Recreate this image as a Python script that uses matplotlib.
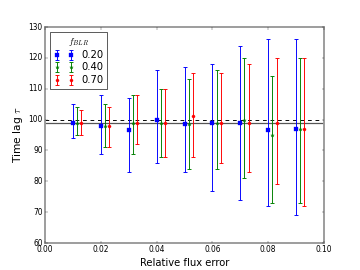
import matplotlib
matplotlib.use('Agg')
import matplotlib.pyplot as plt
import numpy as np

plt.style.use('classic')

flux_err = np.array([0.01, 0.02, 0.03, 0.04, 0.05, 0.06, 0.07, 0.08, 0.09])

# f_BLR = 0.20
lag_020 = [99, 98, 96.5, 100, 98.5, 99, 99, 96.5, 97]
up_020 = [105, 108, 107, 116, 117, 118, 124, 126, 126]
lo_020 = [94, 89, 83, 86, 83, 77, 74, 72, 69]

# f_BLR = 0.40
lag_040 = [99, 98, 99, 99, 98.5, 99, 100, 95, 97]
up_040 = [104, 105, 108, 110, 113, 116, 120, 114, 120]
lo_040 = [95, 91, 89, 88, 84, 84, 81, 73, 73]

# f_BLR = 0.70
lag_070 = [99, 98, 99, 99, 101, 99, 99, 99, 97]
up_070 = [103, 104, 108, 110, 115, 115, 118, 120, 120]
lo_070 = [95, 91, 92, 88, 88, 86, 83, 79, 72]

true_lag = 100
mean_lag = 99

series = [
    ('0.20', lag_020, up_020, lo_020, 0.0, 'b', 's', 7),
    ('0.40', lag_040, up_040, lo_040, 0.0015, 'g', '*', 6),
    ('0.70', lag_070, up_070, lo_070, 0.003, 'r', 'o', 5),
]

fig = plt.figure(figsize=(8, 6), dpi=45)
ax = fig.add_subplot(111)

ax.axhline(true_lag, color='k', ls='--', lw=1.5)
ax.axhline(mean_lag, color='#555555', ls='-', lw=2)

for label, lag, up, lo, dx, c, m, ms in series:
    lag = np.array(lag)
    yerr = [lag - np.array(lo), np.array(up) - lag]
    ax.errorbar(flux_err + dx, lag, yerr=yerr, fmt=m, color=c, mec=c,
                ms=ms, lw=1.5, capsize=3, capthick=1.5, label=label)

ax.set_xlim(0, 0.1)
ax.set_ylim(60, 130)
ax.set_xticks(np.arange(0, 0.101, 0.02))
ax.set_yticks(np.arange(60, 131, 10))
ax.set_xlabel('Relative flux error', fontsize=16)
ax.set_ylabel(r'Time lag $\tau$', fontsize=17)

for s in ax.spines.values():
    s.set_color('#999999')
    s.set_linewidth(3)
ax.tick_params(colors='k', labelsize=12)

leg = ax.legend(loc='upper left', numpoints=2, title=r'$f_{BLR}$', fontsize=16,
                labelspacing=0.25, borderpad=0.35)
leg.get_title().set_fontsize(15)

fig.subplots_adjust(left=0.125, right=0.9, bottom=0.1, top=0.9)
fig.savefig('out.png', dpi=45)
